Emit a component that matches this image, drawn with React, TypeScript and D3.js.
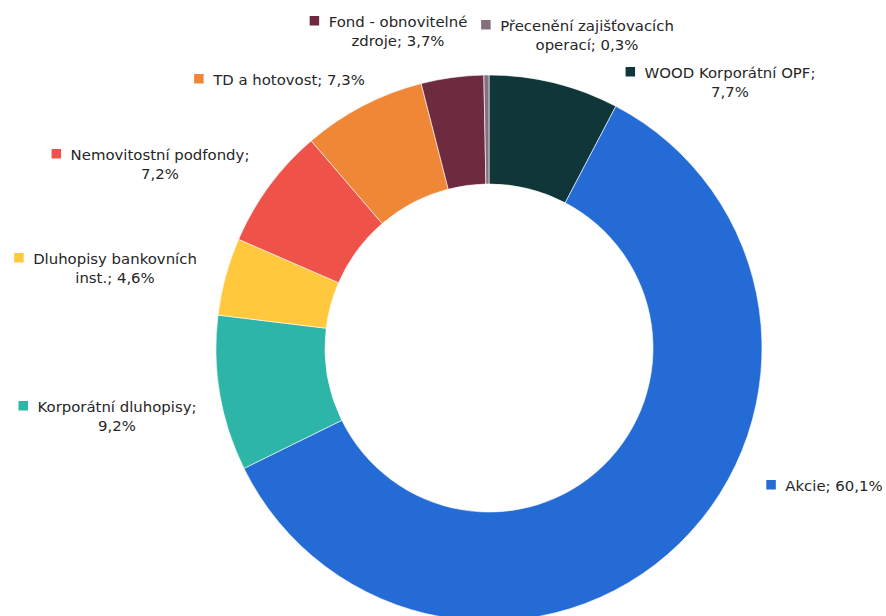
import React, { useEffect, useRef } from "react";
import * as d3 from "d3";

const categories = [
  "WOOD Korporátní OPF",
  "Akcie",
  "Korporátní dluhopisy",
  "Dluhopisy bankovních inst.",
  "Nemovitostní podfondy",
  "TD a hotovost",
  "Fond - obnovitelné zdroje",
  "Přecenění zajišťovacích operací",
];
const values = [7.7, 60.1, 9.2, 4.6, 7.2, 7.3, 3.7, 0.3];
const valueLabels = ["7,7%", "60,1%", "9,2%", "4,6%", "7,2%", "7,3%", "3,7%", "0,3%"];
const colors = ["#0F3739", "#246BD5", "#2DB5A7", "#FFC83D", "#EF5249", "#F08737", "#6E2B40", "#85707F"];

// label text lines (as drawn in the reference)
const labelLines = [
  ["WOOD Korporátní OPF;", "7,7%"],
  ["Akcie; 60,1%"],
  ["Korporátní dluhopisy;", "9,2%"],
  ["Dluhopisy bankovních", "inst.; 4,6%"],
  ["Nemovitostní podfondy;", "7,2%"],
  ["TD a hotovost; 7,3%"],
  ["Fond - obnovitelné", "zdroje; 3,7%"],
  ["Přecenění zajišťovacích", "operací; 0,3%"],
];
// layout: text centre x and first baseline y of each label
const labelPos = [
  [730, 78],
  [834, 491],
  [117, 412],
  [115, 264],
  [160, 160],
  [289, 85],
  [398, 27],
  [587, 31],
];

const W = 886;
const H = 616;
const CX = 489;
const CY = 348;
const R_OUT = 273;
const R_IN = 164;
const FONT = "'DejaVu Sans', 'Open Sans', sans-serif";

export default function App() {
  const ref = useRef<SVGSVGElement | null>(null);

  useEffect(() => {
    const svg = d3.select(ref.current);
    svg.selectAll("*").remove();

    const data = categories.map((c, i) => ({ name: c, value: values[i], label: valueLabels[i], color: colors[i] }));
    const pie = d3.pie<any>().value((d) => d.value).sort(null);
    const arc = d3.arc<any>().innerRadius(R_IN).outerRadius(R_OUT);

    const g = svg.append("g").attr("transform", `translate(${CX},${CY})`);
    g.selectAll("path")
      .data(pie(data))
      .join("path")
      .attr("d", arc)
      .attr("fill", (d) => d.data.color)
      .attr("stroke", "#ffffff")
      .attr("stroke-width", 0.6);

    const lg = svg.append("g");
    data.forEach((d, i) => {
      const [x, y] = labelPos[i];
      const lines = labelLines[i];
      const grp = lg.append("g");
      let firstW = 0;
      lines.forEach((ln, j) => {
        const t = grp
          .append("text")
          .attr("x", x)
          .attr("y", y + j * 19)
          .attr("text-anchor", "middle")
          .attr("font-family", FONT)
          .attr("font-size", 14.9)
          .attr("fill", "#262626")
          .text(ln);
        if (j === 0) firstW = (t.node() as SVGTextElement).getComputedTextLength();
      });
      grp
        .append("rect")
        .attr("x", x - firstW / 2 - 19)
        .attr("y", y - 11)
        .attr("width", 9.5)
        .attr("height", 9.5)
        .attr("fill", d.color);
    });
  }, []);

  return (
    <svg
      ref={ref}
      width={W}
      height={H}
      style={{ position: "absolute", left: 0, top: 0, background: "#fff" }}
    />
  );
}
